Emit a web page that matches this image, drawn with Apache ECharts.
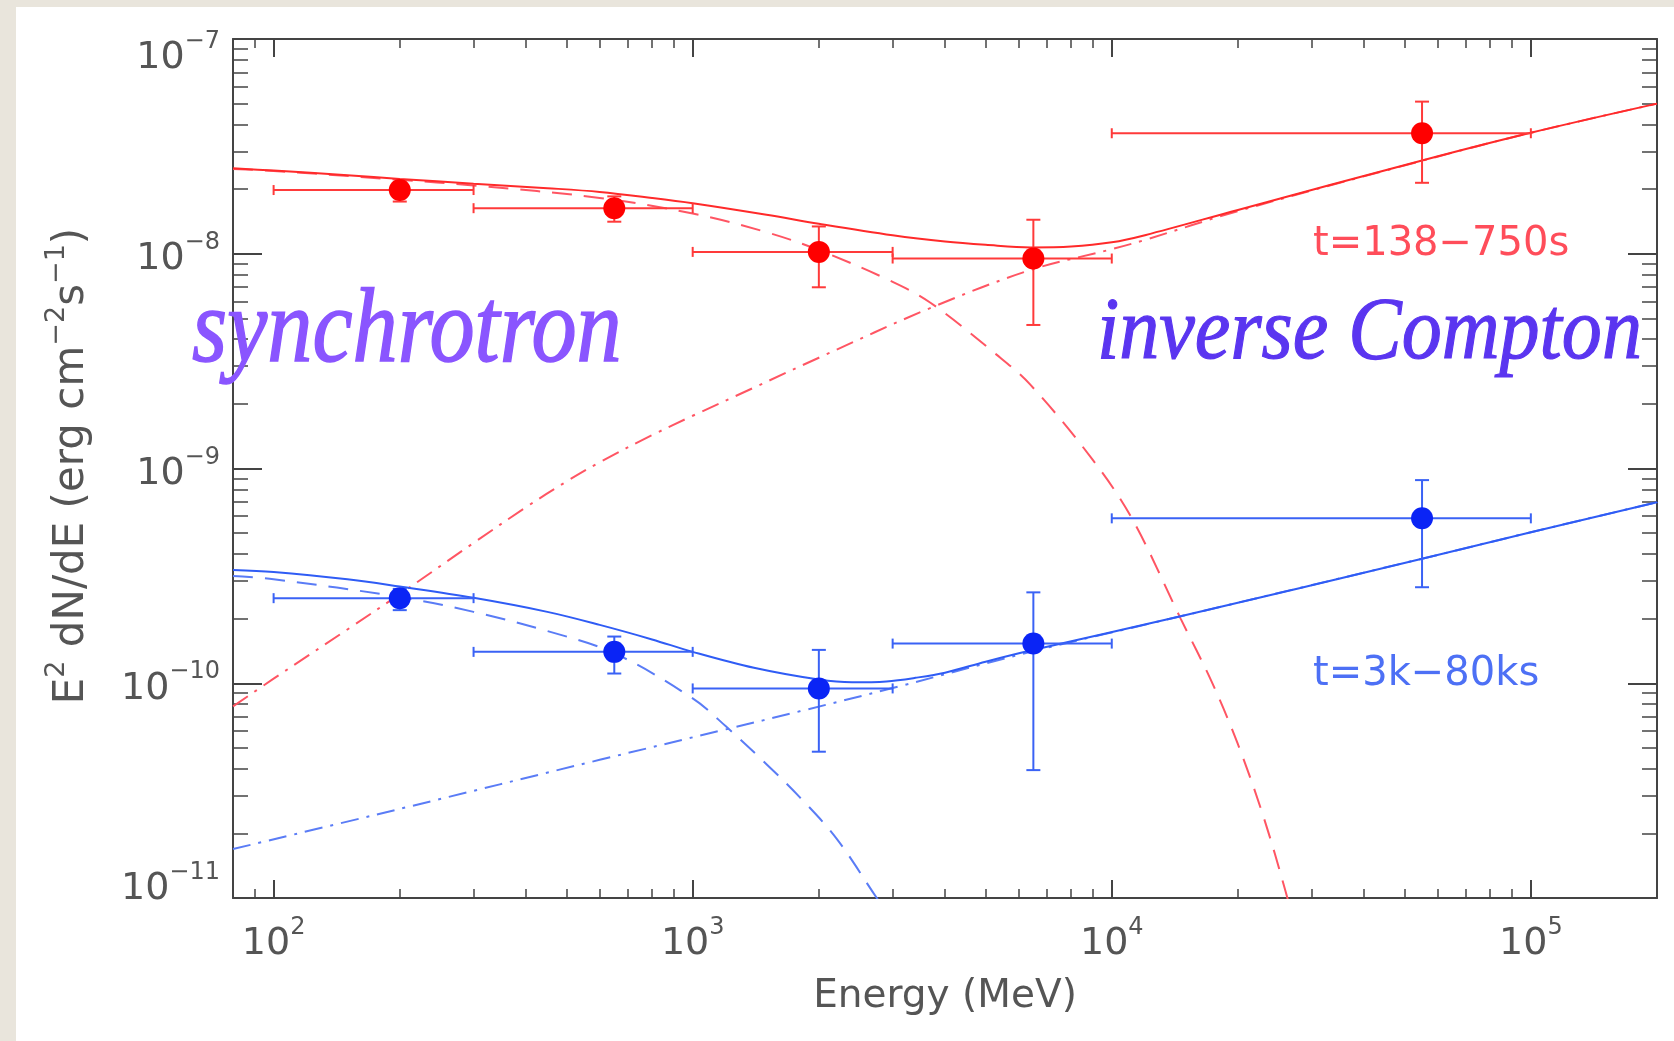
<!DOCTYPE html>
<html><head><meta charset="utf-8">
<script src="https://cdn.jsdelivr.net/npm/echarts@6/dist/echarts.min.js"></script>
<style>
html,body{margin:0;padding:0;background:#e9e5dc;overflow:hidden;}
#paper{position:absolute;left:16px;top:7px;width:1658px;height:1034px;background:#fff;}
#chart{position:absolute;left:0;top:0;width:1674px;height:1041px;}
</style></head><body>
<div id="paper"></div><div id="chart"></div>
<script>
// ---------------- data ----------------
const xMin = 80, xMax = 200000;
const yMin = 1e-11, yMax = 1e-7;

// data points: [E, flux, E_lo, E_hi, flux_lo, flux_hi]
const earlyPoints = [
  [200,   1.98e-8, 100,   300,    1.75e-8, 2.15e-8],
  [650,   1.63e-8, 300,   1000,   1.41e-8, 1.85e-8],
  [2000,  1.02e-8, 1000,  3000,   6.98e-9, 1.34e-8],
  [6500,  9.5e-9,  3000,  10000,  4.66e-9, 1.44e-8],
  [55000, 3.64e-8, 10000, 100000, 2.14e-8, 5.11e-8]
];
const latePoints = [
  [200,   2.49e-10, 100,   300,    2.19e-10, 2.75e-10],
  [650,   1.40e-10, 300,   1000,   1.11e-10, 1.65e-10],
  [2000,  9.46e-11, 1000,  3000,   4.8e-11,  1.43e-10],
  [6500,  1.53e-10, 3000,  10000,  3.94e-11, 2.65e-10],
  [55000, 5.86e-10, 10000, 100000, 2.8e-10,  8.83e-10]
];

// model curves [E, flux]
const earlyTotal = [[80,2.5e-8],[100,2.44e-8],[150,2.32e-8],[200,2.23e-8],[300,2.12e-8],[450,2.02e-8],[600,1.94e-8],[800,1.82e-8],[1000,1.72e-8],[1500,1.52e-8],[2000,1.38e-8],[3000,1.22e-8],[4000,1.14e-8],[5000,1.1e-8],[6400,1.07e-8],[8000,1.08e-8],[10000,1.13e-8],[12000,1.22e-8],[20000,1.6e-8],[55000,2.72e-8],[100000,3.66e-8],[200000,5.0e-8]];
const earlySync = [[80,2.48e-8],[100,2.43e-8],[200,2.21e-8],[300,2.08e-8],[600,1.82e-8],[1000,1.54e-8],[1500,1.26e-8],[2000,1.04e-8],[3000,7.4e-9],[3700,5.9e-9],[5300,3.4e-9],[6400,2.45e-9],[9000,1.1e-9],[11200,5.8e-10],[14600,2.0e-10],[17300,1.02e-10],[20000,5.2e-11],[23000,2.4e-11],[26000,1.07e-11],[27500,7e-12]];
const earlyIC = [[80,7.8e-11],[100,1.05e-10],[150,1.78e-10],[200,2.6e-10],[300,4.5e-10],[400,6.6e-10],[500,8.7e-10],[600,1.07e-9],[800,1.43e-9],[1000,1.76e-9],[1400,2.38e-9],[2000,3.28e-9],[3700,5.6e-9],[6400,8.4e-9],[10000,1.05e-8],[12000,1.16e-8],[20000,1.58e-8],[55000,2.71e-8],[100000,3.66e-8],[200000,5.0e-8]];

const lateTotal = [[80,3.37e-10],[100,3.3e-10],[150,3.05e-10],[200,2.82e-10],[300,2.5e-10],[450,2.15e-10],[600,1.87e-10],[800,1.6e-10],[1000,1.4e-10],[1400,1.18e-10],[2000,1.04e-10],[2400,1.01e-10],[2900,1.02e-10],[3400,1.06e-10],[4000,1.12e-10],[5000,1.26e-10],[6400,1.42e-10],[14600,2.05e-10],[55000,3.8e-10],[100000,5.05e-10],[200000,6.96e-10]];
const lateSync = [[80,3.16e-10],[100,3.05e-10],[200,2.52e-10],[300,2.15e-10],[450,1.75e-10],[650,1.38e-10],[1000,8.5e-11],[1200,6.3e-11],[1500,4.2e-11],[1800,2.95e-11],[2200,1.9e-11],[2750,1.0e-11],[2900,8.6e-12]];
const lateIC = [[80,1.69e-11],[200,2.6e-11],[600,4.4e-11],[1200,6.1e-11],[1800,7.4e-11],[3000,9.5e-11],[6400,1.4e-10],[14600,2.05e-10],[55000,3.8e-10],[100000,5.05e-10],[200000,6.96e-10]];

const labelEarly = 't=138\u2212750s';
const labelLate = 't=3k\u221280ks';
const labelSync = 'synchrotron';
const labelIC = 'inverse Compton';
const xTitle = 'Energy (MeV)';

// ---------------- chart ----------------
const RED = '#ff2a2a', RED_L = '#ff5563', BLUE = '#2f5cf5', BLUE_L = '#5a7cf6';
const AX = '#444', TXT = '#555';
const chart = echarts.init(document.getElementById('chart'), null, {renderer:'canvas'});

function expOf(v){ return Math.round(Math.log10(v)); }
function supText(e){ return (e < 0 ? '\u2212' : '') + Math.abs(e); }
const yMaxE = expOf(yMax), yMinE = expOf(yMin);

const tickRich = {
  a: {fontSize: 38, lineHeight: 57, fontFamily: 'DejaVu Sans', color: TXT},
  s: {fontSize: 24, lineHeight: 24, verticalAlign: 'top', fontFamily: 'DejaVu Sans', color: TXT},
  g: {fontSize: 10, lineHeight: 28}
};

function errorBarSeries(rows, color){
  return {
    type: 'custom', xAxisIndex: 0, yAxisIndex: 0, z: 3, clip: true,
    data: rows,
    encode: {x: 0, y: 1},
    renderItem: function(params, api){
      const y = api.value(1);
      const c = api.coord([api.value(0), y]);
      const l = api.coord([api.value(2), y]);
      const r = api.coord([api.value(3), y]);
      const lo = api.coord([api.value(0), api.value(4)]);
      const hi = api.coord([api.value(0), api.value(5)]);
      const st = {stroke: color, lineWidth: 2};
      const mk = (x1,y1,x2,y2) => ({type:'line', shape:{x1,y1,x2,y2}, style: st});
      return {type:'group', children: [
        mk(l[0], c[1], r[0], c[1]),
        mk(l[0], c[1]-5, l[0], c[1]+5),
        mk(r[0], c[1]-5, r[0], c[1]+5),
        mk(c[0], lo[1], c[0], hi[1]),
        mk(c[0]-7, lo[1], c[0]+7, lo[1]),
        mk(c[0]-7, hi[1], c[0]+7, hi[1])
      ]};
    }
  };
}
function lineSeries(data, color, type, width){
  return {type:'line', data, xAxisIndex:0, yAxisIndex:0, showSymbol:false, symbol:'none',
    smooth: 0.35, clip: true, z: 2, silent: true,
    lineStyle: {color, width: width || 2, type}};
}

function xAxisCfg(pos, labels){
  return {
    type: 'log', logBase: 10, min: xMin, max: xMax, position: pos,
    splitLine: {show:false},
    axisLine: {show:true, onZero:false, lineStyle:{color:AX, width:2}},
    axisTick: {show:true, inside:true, length:18, lineStyle:{color:AX, width:2}},
    minorTick: {show:true, splitNumber:9, length:9, lineStyle:{color:AX, width:1.5}},
    axisLabel: labels ? {
      show:true, margin:18, showMinLabel:false, showMaxLabel:false,
      formatter: v => '{a|10}{s|' + supText(expOf(v)) + '}', rich: tickRich
    } : {show:false},
    name: labels ? xTitle : '', nameLocation:'middle', nameGap: 79, nameMoveOverlap: false,
    nameTextStyle: {fontSize: 39, fontFamily:'DejaVu Sans', color: TXT}
  };
}
function yAxisCfg(pos, labels){
  return {
    type: 'log', logBase: 10, min: yMin, max: yMax, position: pos,
    splitLine: {show:false},
    axisLine: {show:true, onZero:false, lineStyle:{color:AX, width:2}},
    axisTick: {show:true, inside:true, length:29, lineStyle:{color:AX, width:2}},
    minorTick: {show:true, splitNumber:9, length:15, lineStyle:{color:AX, width:1.5}},
    axisLabel: labels ? {
      show:true, margin:13, padding:[11,0,0,0],
      formatter: v => {
        const e = expOf(v);
        const s = '{a|10}{s|' + supText(e) + '}';
        if (e === yMaxE) return '{g| }\n' + s;
        if (e === yMinE) return s + '\n{g| }';
        return s;
      }, rich: tickRich
    } : {show:false}
  };
}

const option = {
  animation: false,
  backgroundColor: 'transparent',
  grid: {left:233, right:17, top:39, bottom:143, containLabel:false, outerBoundsMode:'none'},
  xAxis: [xAxisCfg('bottom', true), xAxisCfg('top', false)],
  yAxis: [yAxisCfg('left', true), yAxisCfg('right', false)],
  series: [
    lineSeries(earlyIC, RED_L, [18,8,3,8]),
    lineSeries(earlySync, RED_L, [20,12]),
    lineSeries(earlyTotal, RED, 'solid'),
    lineSeries(lateIC, BLUE_L, [18,8,3,8]),
    lineSeries(lateSync, BLUE_L, [20,12]),
    lineSeries(lateTotal, BLUE, 'solid'),
    errorBarSeries(earlyPoints, '#ff3a3a'),
    errorBarSeries(latePoints, '#3a62f5'),
    {type:'scatter', xAxisIndex:0, yAxisIndex:0, z:4, symbolSize:22,
     data: earlyPoints.map(r => [r[0], r[1]]), itemStyle:{color:'#ff0000', opacity:1}},
    {type:'scatter', xAxisIndex:0, yAxisIndex:0, z:4, symbolSize:22,
     data: latePoints.map(r => [r[0], r[1]]), itemStyle:{color:'#0a24f5', opacity:1}}
  ],
  graphic: [
    {type:'text', x:72, y:466, rotation: Math.PI/2, z: 10,
     style:{text:'{a|E}{s|2}{a| dN/dE (erg cm}{s|\u22122}{a|s}{s|\u22121}{a|)}', align:'center', verticalAlign:'middle',
       rich:{a:{fontSize:42, lineHeight:58, fontFamily:'DejaVu Sans', fill:TXT},
             s:{fontSize:27, lineHeight:27, verticalAlign:'top', fontFamily:'DejaVu Sans', fill:TXT}}}},
    {type:'text', x:1313, y:245, z:10,
     style:{text: labelEarly, fontSize:40, fontFamily:'DejaVu Sans', fill:'#ff4d5a', align:'left', verticalAlign:'middle'}},
    {type:'text', x:1313, y:675, z:10,
     style:{text: labelLate, fontSize:40, fontFamily:'DejaVu Sans', fill:'#4d70f5', align:'left', verticalAlign:'middle'}},
    {type:'text', x:192, y:333, scaleX:0.852, z:10,
     style:{text: labelSync, fontSize:106, fontStyle:'italic', fontFamily:'Liberation Serif', fill:'#8a55ff',
            stroke:'#8a55ff', lineWidth:1.5, align:'left', verticalAlign:'middle'}},
    {type:'text', x:1097, y:335, scaleX:0.91, z:10,
     style:{text: labelIC, fontSize:88, fontStyle:'italic', fontFamily:'Liberation Serif', fill:'#5a35f0',
            stroke:'#5a35f0', lineWidth:1.2, align:'left', verticalAlign:'middle'}}
  ]
};
chart.setOption(option);
</script>
</body></html>
